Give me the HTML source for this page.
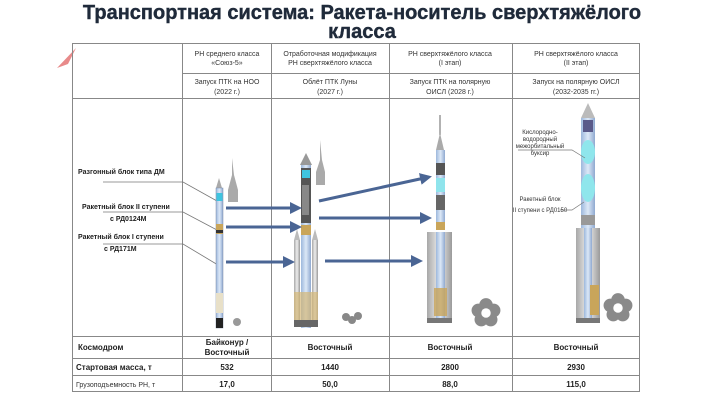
<!DOCTYPE html>
<html><head><meta charset="utf-8"><style>
html,body{margin:0;padding:0;background:#fff;}
body{width:725px;height:408px;overflow:hidden;position:relative;font-family:"Liberation Sans",sans-serif;}
svg{position:absolute;left:0;top:0;}
</style></head><body>
<svg width="725" height="408" viewBox="0 0 725 408" xmlns="http://www.w3.org/2000/svg" font-family="Liberation Sans, sans-serif">
<defs>
<marker id="ah" markerWidth="4" markerHeight="4" refX="3" refY="2" orient="auto" markerUnits="strokeWidth"><path d="M0,0 L4,2 L0,4 z" fill="#4a6594"/></marker>
<linearGradient id="gb" x1="0" x2="1"><stop offset="0" stop-color="#9db8dc"/><stop offset="0.5" stop-color="#dce8f7"/><stop offset="1" stop-color="#8fa9d0"/></linearGradient>
<linearGradient id="gg" x1="0" x2="1"><stop offset="0" stop-color="#a8a8a8"/><stop offset="0.5" stop-color="#eeeeee"/><stop offset="1" stop-color="#9a9a9a"/></linearGradient>
<g id="flower" fill="#8a8a8a"><circle cx="0" cy="-6" r="5"/><circle cx="5.7" cy="-1.9" r="5"/><circle cx="3.5" cy="4.9" r="5"/><circle cx="-3.5" cy="4.9" r="5"/><circle cx="-5.7" cy="-1.9" r="5"/><circle r="3.5" fill="#fff"/></g>
</defs>
<text x="362" y="19" text-anchor="middle" font-size="20" font-weight="bold" fill="#1f2a3a" stroke="#1f2a3a" stroke-width="0.4">Транспортная система: Ракета-носитель сверхтяжёлого</text>
<text x="362" y="38" text-anchor="middle" font-size="20" font-weight="bold" fill="#1f2a3a" stroke="#1f2a3a" stroke-width="0.4">класса</text>
<path d="M57,68 L76,48 L68,64 z" fill="#e88a8a"/>
<g stroke="#888" stroke-width="1" fill="none">
<rect x="72.5" y="43.5" width="567" height="348"/>
<line x1="182.5" y1="43" x2="182.5" y2="392"/>
<line x1="271.5" y1="43" x2="271.5" y2="392"/>
<line x1="389.5" y1="43" x2="389.5" y2="392"/>
<line x1="512.5" y1="43" x2="512.5" y2="392"/>
<line x1="182" y1="73.5" x2="640" y2="73.5"/>
<line x1="72" y1="98.5" x2="640" y2="98.5"/>
<line x1="72" y1="336.5" x2="640" y2="336.5"/>
<line x1="72" y1="358.5" x2="640" y2="358.5"/>
<line x1="72" y1="375.5" x2="640" y2="375.5"/>
</g>
<g font-size="7" fill="#333" text-anchor="middle">
<text x="227" y="56">РН среднего класса</text><text x="227" y="65">«Союз-5»</text>
<text x="330" y="56">Отработочная модификация</text><text x="330" y="65">РН сверхтяжёлого класса</text>
<text x="450" y="56">РН сверхтяжёлого класса</text><text x="450" y="65">(I этап)</text>
<text x="576" y="56">РН сверхтяжёлого класса</text><text x="576" y="65">(II этап)</text>
<text x="227" y="84">Запуск ПТК на НОО</text><text x="227" y="94">(2022 г.)</text>
<text x="330" y="84">Облёт ПТК Луны</text><text x="330" y="94">(2027 г.)</text>
<text x="450" y="84">Запуск ПТК на полярную</text><text x="450" y="94">ОИСЛ (2028 г.)</text>
<text x="576" y="84">Запуск на полярную ОИСЛ</text><text x="576" y="94">(2032-2035 гг.)</text>
</g>
<g font-size="8" font-weight="bold" fill="#222" text-anchor="middle">
<text x="227" y="345">Байконур /</text><text x="227" y="355">Восточный</text>
<text x="330" y="350">Восточный</text><text x="450" y="350">Восточный</text><text x="576" y="350">Восточный</text>
<text x="227" y="370">532</text><text x="330" y="370">1440</text><text x="450" y="370">2800</text><text x="576" y="370">2930</text>
<text x="227" y="387">17,0</text><text x="330" y="387">50,0</text><text x="450" y="387">88,0</text><text x="576" y="387">115,0</text>
</g>
<text x="78" y="350" font-size="8" font-weight="bold" fill="#222">Космодром</text>
<text x="76" y="370" font-size="8" font-weight="bold" fill="#222">Стартовая масса, т</text>
<text x="76" y="387" font-size="7" fill="#333">Грузоподъемность РН, т</text>
<g font-size="7" font-weight="bold" fill="#222">
<text x="78" y="174">Разгонный блок типа ДМ</text>
<text x="82" y="209">Ракетный блок II ступени</text>
<text x="110" y="221">с РД0124М</text>
<text x="78" y="239">Ракетный блок I ступени</text>
<text x="104" y="251">с РД171М</text>
</g>
<g stroke="#777" stroke-width="0.8" fill="none">
<polyline points="103,182 183,182 217,201"/>
<polyline points="103,212 183,212 217,230"/>
<polyline points="103,244 183,244 218,265"/>
</g>
<g>
<path d="M216,188 L219,178 L222,188 z" fill="#aaa"/>
<rect x="216" y="188" width="7" height="140" fill="url(#gb)" stroke="#7a8aa8" stroke-width="0.5"/>
<rect x="216.5" y="193" width="6" height="8" fill="#3fc4df"/>
<rect x="216" y="224" width="7" height="10" fill="#c9a55a"/>
<rect x="216" y="230" width="7" height="3" fill="#333"/>
<rect x="216" y="293" width="7" height="20" fill="#e8e0c8"/>
<rect x="216" y="318" width="7" height="10" fill="#222"/>
<path d="M232,158 L232,175 L228,190 L228,202 L238,202 L238,190 L234,175 z" fill="#aaa"/>
<circle cx="237" cy="322" r="4" fill="#999"/>
</g>
<g>
<path d="M300,165 L306,153 L312,165 z" fill="#999"/>
<rect x="301" y="165" width="10" height="163" fill="url(#gb)"/>
<rect x="301" y="168" width="10" height="55" fill="#555"/>
<rect x="302" y="170" width="8" height="8" fill="#3fc4df"/>
<rect x="302" y="185" width="7" height="30" fill="#888"/>
<rect x="301" y="225" width="10" height="10" fill="#c9a55a"/>
<path d="M294,240 L297,229 L300,240 z" fill="#bbb"/>
<path d="M312,240 L315,229 L318,240 z" fill="#bbb"/>
<rect x="294" y="240" width="6" height="86" fill="url(#gg)"/>
<rect x="312" y="240" width="6" height="86" fill="url(#gg)"/>
<rect x="294" y="292" width="24" height="28" fill="#d4b878" opacity="0.7"/>
<rect x="294" y="320" width="24" height="7" fill="#666"/>
<path d="M320,140 L320,160 L316,172 L316,185 L325,185 L325,172 L322,160 z" fill="#aaa"/>
<g fill="#888"><circle cx="346" cy="317" r="4"/><circle cx="352" cy="320" r="4"/><circle cx="358" cy="316" r="4"/></g>
</g>
<g>
<line x1="440" y1="115" x2="440" y2="135" stroke="#999" stroke-width="1.5"/>
<path d="M436,150 L440,133 L444,150 z" fill="#aaa"/>
<rect x="436" y="150" width="9" height="80" fill="url(#gb)"/>
<rect x="436" y="163" width="9" height="12" fill="#555"/>
<rect x="436" y="178" width="9" height="14" fill="#8fe4ec"/>
<rect x="436" y="195" width="9" height="15" fill="#666"/>
<rect x="436" y="222" width="9" height="8" fill="#c9a55a"/>
<rect x="427" y="232" width="25" height="90" fill="url(#gg)"/>
<rect x="436" y="232" width="9" height="90" fill="url(#gb)"/>
<rect x="434" y="288" width="13" height="28" fill="#c9a55a" opacity="0.8"/>
<rect x="427" y="318" width="25" height="5" fill="#777"/>
<use href="#flower" transform="translate(486,313) scale(1.35)"/>
</g>
<g>
<path d="M581,118 L588,103 L595,118 z" fill="#bbb"/>
<rect x="581" y="118" width="14" height="110" fill="url(#gb)"/>
<rect x="583" y="120" width="10" height="12" fill="#5a5a8a"/>
<ellipse cx="588" cy="152" rx="7" ry="12" fill="#8fe6ec"/>
<ellipse cx="588" cy="188" rx="7" ry="14" fill="#8fe6ec"/>
<rect x="581" y="215" width="14" height="10" fill="#999"/>
<rect x="576" y="228" width="24" height="94" fill="url(#gg)"/>
<rect x="584" y="228" width="8" height="94" fill="url(#gb)"/>
<rect x="590" y="285" width="9" height="30" fill="#c9a55a"/>
<rect x="576" y="318" width="24" height="5" fill="#777"/>
<use href="#flower" transform="translate(618,308) scale(1.35)"/>
</g>
<g font-size="6" fill="#333" text-anchor="middle">
<text x="540" y="134">Кислородно-</text><text x="540" y="141">водородный</text><text x="540" y="148">межорбитальный</text><text x="540" y="155">буксир</text>
<text x="540" y="201">Ракетный блок</text><text x="540" y="212">II ступени с РД0150</text>
</g>
<g stroke="#777" stroke-width="0.7" fill="none"><polyline points="518,150 572,150 585,158"/><polyline points="560,210 572,210 584,202"/></g>
<g stroke="#4a6594" stroke-width="3" marker-end="url(#ah)">
<line x1="226" y1="208" x2="299" y2="208"/>
<line x1="226" y1="227" x2="299" y2="227"/>
<line x1="226" y1="262" x2="292" y2="262"/>
<line x1="319" y1="201" x2="429" y2="177"/>
<line x1="319" y1="218" x2="429" y2="218"/>
<line x1="325" y1="261" x2="420" y2="261"/>
</g>
</svg>
</body></html>
